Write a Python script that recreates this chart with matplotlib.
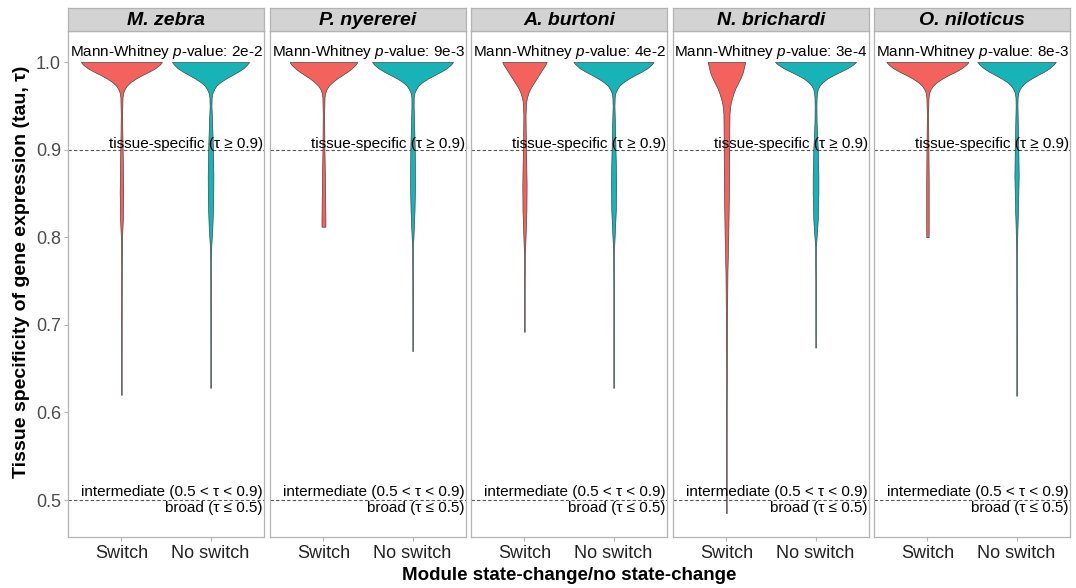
import matplotlib
matplotlib.use('Agg')
import matplotlib.pyplot as plt


plt.rcParams['font.family'] = ['Liberation Sans', 'DejaVu Sans']
plt.rcParams['mathtext.fontset'] = 'custom'
plt.rcParams['mathtext.rm'] = 'Liberation Sans'
plt.rcParams['mathtext.it'] = 'Liberation Sans:italic'

SPECIES = ['M. zebra', 'P. nyererei', 'A. burtoni', 'N. brichardi', 'O. niloticus']
GROUPS = ['Switch', 'No switch']
P_VALUES = ['2e-2', '9e-3', '4e-2', '3e-4', '8e-3']
COLORS = ['#F4625D', '#18B3B7']

# violin outlines: tau levels and half widths (category units)
TOP_TAU = [1.0, 0.997, 0.993, 0.989, 0.985, 0.981, 0.977, 0.973, 0.969, 0.965, 0.960]

SWITCH_TAU = [
    TOP_TAU + [0.94, 0.92, 0.90, 0.87, 0.85, 0.82, 0.80, 0.76, 0.70, 0.62],
    TOP_TAU + [0.94, 0.90, 0.87, 0.84, 0.82, 0.812],
    TOP_TAU + [0.955, 0.94, 0.92, 0.90, 0.86, 0.83, 0.80, 0.78, 0.75, 0.692],
    [1.0, 0.993, 0.987, 0.981, 0.976, 0.970, 0.964, 0.958, 0.953, 0.947, 0.941,
     0.92, 0.90, 0.854, 0.80, 0.76, 0.70, 0.60, 0.485],
    TOP_TAU + [0.94, 0.90, 0.86, 0.82, 0.80],
]
SWITCH_HALF = [
    [0.455, 0.43, 0.38, 0.31, 0.23, 0.16, 0.10, 0.06, 0.035, 0.02, 0.012,
     0.008, 0.010, 0.013, 0.018, 0.020, 0.015, 0.007, 0.004, 0.003, 0.002],
    [0.38, 0.36, 0.32, 0.27, 0.21, 0.15, 0.10, 0.06, 0.035, 0.02, 0.012,
     0.008, 0.011, 0.016, 0.020, 0.022, 0.022],
    [0.25, 0.235, 0.21, 0.185, 0.16, 0.135, 0.11, 0.085, 0.062, 0.045, 0.03,
     0.02, 0.012, 0.014, 0.018, 0.024, 0.022, 0.012, 0.005, 0.003, 0.002],
    [0.21, 0.195, 0.18, 0.155, 0.13, 0.10, 0.078, 0.06, 0.047, 0.04, 0.034,
     0.032, 0.031, 0.028, 0.020, 0.011, 0.006, 0.003, 0.002],
    [0.46, 0.435, 0.385, 0.315, 0.235, 0.165, 0.105, 0.062, 0.036, 0.02, 0.012,
     0.007, 0.011, 0.014, 0.014, 0.013],
]

NOSWITCH_TAU = [
    TOP_TAU + [0.95, 0.93, 0.90, 0.87, 0.84, 0.81, 0.79, 0.77, 0.70, 0.628],
    TOP_TAU + [0.95, 0.92, 0.90, 0.86, 0.83, 0.80, 0.79, 0.75, 0.67],
    TOP_TAU + [0.95, 0.92, 0.90, 0.86, 0.83, 0.80, 0.785, 0.75, 0.628],
    TOP_TAU + [0.95, 0.93, 0.90, 0.87, 0.85, 0.82, 0.80, 0.79, 0.75, 0.674],
    TOP_TAU + [0.95, 0.90, 0.87, 0.84, 0.81, 0.78, 0.72, 0.619],
]
NOSWITCH_HALF = [
    [0.433, 0.41, 0.37, 0.31, 0.24, 0.17, 0.11, 0.065, 0.04, 0.022, 0.013,
     0.010, 0.018, 0.027, 0.032, 0.030, 0.020, 0.008, 0.004, 0.003, 0.002],
    [0.455, 0.43, 0.385, 0.32, 0.245, 0.17, 0.11, 0.065, 0.04, 0.022, 0.013,
     0.012, 0.020, 0.025, 0.028, 0.022, 0.010, 0.005, 0.003, 0.002],
    [0.45, 0.425, 0.38, 0.315, 0.24, 0.17, 0.11, 0.065, 0.04, 0.022, 0.013,
     0.010, 0.018, 0.022, 0.030, 0.025, 0.012, 0.005, 0.003, 0.002],
    [0.455, 0.42, 0.36, 0.28, 0.20, 0.13, 0.08, 0.045, 0.025, 0.017, 0.012,
     0.010, 0.012, 0.025, 0.032, 0.032, 0.025, 0.012, 0.005, 0.003, 0.002],
    [0.44, 0.415, 0.37, 0.31, 0.235, 0.165, 0.105, 0.062, 0.036, 0.02, 0.012,
     0.010, 0.020, 0.024, 0.018, 0.010, 0.004, 0.003, 0.002],
]

Y_TICKS = [0.5, 0.6, 0.7, 0.8, 0.9, 1.0]

W, H = 1076, 588
PANEL_LEFTS = [68, 270, 471, 673, 874]
PANEL_W = 196
PANEL_TOP, PANEL_BOTTOM = 31, 537
STRIP_H = 23
BORDER = '#B3B3B3'


def draw_violin(ax, pos, tau, half, color):
    left = [pos - h for h in half]
    right = [pos + h for h in half]
    ax.fill_betweenx(tau, left, right, facecolor=color,
                     edgecolor='#3A3A3A', linewidth=0.45, zorder=2)


fig = plt.figure(figsize=(W / 100, H / 100), dpi=100)

for i, name in enumerate(SPECIES):
    x0 = PANEL_LEFTS[i]
    ax = fig.add_axes([x0 / W, 1 - PANEL_BOTTOM / H, PANEL_W / W,
                       (PANEL_BOTTOM - PANEL_TOP) / H])
    ax.set_xlim(0.4, 2.6)
    ax.set_ylim(0.4578, 1.0354)

    draw_violin(ax, 1, SWITCH_TAU[i], SWITCH_HALF[i], COLORS[0])
    draw_violin(ax, 2, NOSWITCH_TAU[i], NOSWITCH_HALF[i], COLORS[1])

    for lvl in (0.9, 0.5):
        ax.axhline(lvl, color='#555555', linestyle=(0, (3, 2)), linewidth=0.8,
                   zorder=1)

    ax.text(1.5, 1.011, r'Mann-Whitney $p$-value: ' + P_VALUES[i],
            ha='center', va='center', fontsize=11, color='black', zorder=3)
    ax.text(2.585, 0.8985, 'tissue-specific (τ ≥ 0.9)', ha='right',
            va='bottom', fontsize=11, zorder=3)
    ax.text(2.585, 0.5015, 'intermediate (0.5 < τ < 0.9)', ha='right',
            va='bottom', fontsize=11, zorder=3)
    ax.text(2.585, 0.4985, 'broad (τ ≤ 0.5)', ha='right', va='top',
            fontsize=11, zorder=3)

    ax.set_xticks([1, 2])
    ax.set_xticklabels(GROUPS, fontsize=13, color='#222222')
    ax.tick_params(axis='x', length=3, color=BORDER, pad=3)
    if i == 0:
        ax.set_yticks(Y_TICKS)
        ax.set_yticklabels(['%.1f' % t for t in Y_TICKS], fontsize=13,
                           color='#4D4D4D')
        ax.tick_params(axis='y', length=3, color=BORDER, pad=2)
    else:
        ax.set_yticks([])
    for sp in ax.spines.values():
        sp.set_color(BORDER)
        sp.set_linewidth(0.9)

    # facet strip
    sax = fig.add_axes([x0 / W, 1 - PANEL_TOP / H, PANEL_W / W, STRIP_H / H])
    sax.set_facecolor('#D3D3D3')
    sax.set_xticks([])
    sax.set_yticks([])
    for sp in sax.spines.values():
        sp.set_color(BORDER)
        sp.set_linewidth(0.9)
    sax.text(0.5, 0.45, name, transform=sax.transAxes, ha='center',
             va='center', fontsize=14, fontweight='bold', style='italic')

fig.text(22 / W, 1 - 272 / H, 'Tissue specificity of gene expression (tau, τ)',
         rotation=90, ha='center', va='center', fontsize=14,
         fontweight='bold')
fig.text(569 / W, 1 - 576 / H, 'Module state-change/no state-change',
         ha='center', va='center', fontsize=13.5, fontweight='bold')

fig.savefig('out.png', dpi=100, facecolor='white')
